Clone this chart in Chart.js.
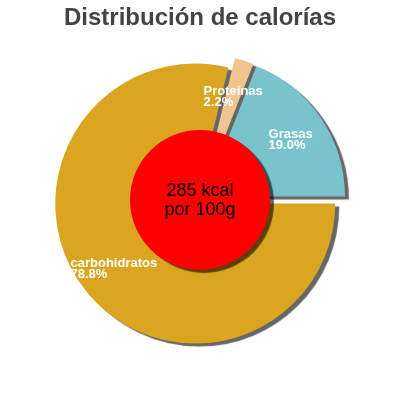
<!DOCTYPE html>
<html>
<head>
<meta charset="utf-8">
<script src="https://cdn.jsdelivr.net/npm/chart.js@4/dist/chart.umd.min.js"></script>
<style>
  html, body { margin: 0; padding: 0; background: #fff; }
  #wrap { width: 400px; height: 400px; }
</style>
</head>
<body>
<div id="wrap"><canvas id="calChart" width="400" height="400"></canvas></div>
<script>
// ----- Data -----
const categories = ["carbohidratos", "Proteínas", "Grasas"];
const percents = [78.8, 2.2, 19.0];
const sliceColors = ["#DAA520", "#EFC48F", "#79C4CC"];
const centerLines = ["285 kcal", "por 100g"];
const titleText = "Distribución de calorías";

// ----- Look -----
const FONT = "'Liberation Sans', Arial, sans-serif";
const SLICE_OUT = 6;        // every slice pulled out a little
const SHADOW = "rgba(0,0,0,0.6)";

function withShadow(ctx) {
  ctx.shadowColor = SHADOW;
  ctx.shadowOffsetX = 4;
  ctx.shadowOffsetY = 3;
  ctx.shadowBlur = 1;
}

// draw the arcs ourselves so each one is shifted out and shadowed
const explodePlugin = {
  id: "explode",
  beforeDatasetDraw(chart, args) {
    const ctx = chart.ctx;
    args.meta.data.forEach(arc => {
      const mid = (arc.startAngle + arc.endAngle) / 2;
      ctx.save();
      withShadow(ctx);
      ctx.translate(Math.cos(mid) * SLICE_OUT, Math.sin(mid) * SLICE_OUT);
      arc.draw(ctx);
      ctx.restore();
    });
    return false;
  }
};

// red badge in the middle + slice labels
const overlayPlugin = {
  id: "overlay",
  afterDatasetsDraw(chart) {
    const ctx = chart.ctx;
    const arcs = chart.getDatasetMeta(0).data;
    const cx = arcs[0].x, cy = arcs[0].y, r = arcs[0].outerRadius;

    // badge
    ctx.save();
    withShadow(ctx);
    ctx.beginPath();
    ctx.arc(cx, cy, r / 2, 0, Math.PI * 2);
    ctx.fillStyle = "#FF0000";
    ctx.fill();
    ctx.restore();

    ctx.save();
    ctx.fillStyle = "#000";
    ctx.font = `18px ${FONT}`;
    ctx.textAlign = "center";
    ctx.textBaseline = "alphabetic";
    ctx.fillText(centerLines[0], cx, cy - 4);
    ctx.fillText(centerLines[1], cx, cy + 15);
    ctx.restore();

    // labels inside each slice
    ctx.save();
    ctx.fillStyle = "#fff";
    ctx.font = `bold 13px ${FONT}`;
    ctx.textAlign = "left";
    ctx.textBaseline = "alphabetic";
    arcs.forEach((arc, i) => {
      const mid = (arc.startAngle + arc.endAngle) / 2;
      const d = SLICE_OUT + r * 0.74;
      const lx = cx + Math.cos(mid) * d;
      const ly = cy + Math.sin(mid) * d;
      const l1 = categories[i];
      const l2 = percents[i].toFixed(1) + "%";
      const w = Math.max(ctx.measureText(l1).width, ctx.measureText(l2).width);
      ctx.fillText(l1, lx - w / 2, ly - 0.5);
      ctx.fillText(l2, lx - w / 2, ly + 10.5);
    });
    ctx.restore();
  }
};

// ----- Chart -----
const ctx = document.getElementById("calChart").getContext("2d");
const chart = new Chart(ctx, {
  type: "pie",
  data: {
    labels: categories,
    datasets: [{
      data: percents,
      backgroundColor: sliceColors,
      borderWidth: 0
    }]
  },
  options: {
    responsive: false,
    animation: false,
    rotation: 90,
    radius: 140,
    layout: { padding: { bottom: 41 } },
    plugins: {
      legend: { display: false },
      tooltip: { enabled: false },
      title: {
        display: true,
        text: titleText,
        color: "#444",
        font: { family: FONT, size: 24, weight: "bold" },
        padding: { top: 4, bottom: 8 }
      }
    }
  },
  plugins: [explodePlugin, overlayPlugin]
});
</script>
</body>
</html>
